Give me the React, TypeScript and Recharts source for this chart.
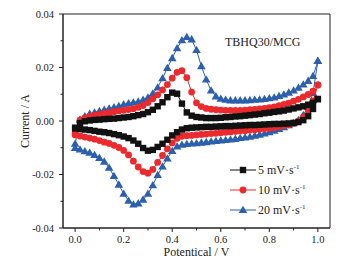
import { ScatterChart, Scatter, XAxis, YAxis, ReferenceArea, Legend } from 'recharts';

const SERIF = '"Liberation Serif", "Times New Roman", serif';
const INK = '#222';

// potential steps shared by every scan (V)
const POTENTIALS = [
  0, 0.02, 0.04, 0.06, 0.08, 0.1, 0.12, 0.14, 0.16, 0.18, 0.2, 0.22, 0.24, 0.26, 0.28, 0.3, 0.32, 0.34,
  0.36, 0.38, 0.4, 0.42, 0.44, 0.46, 0.48, 0.5, 0.52, 0.54, 0.56, 0.58, 0.6, 0.62, 0.64, 0.66, 0.68, 0.7,
  0.72, 0.74, 0.76, 0.78, 0.8, 0.82, 0.84, 0.86, 0.88, 0.9, 0.92, 0.94, 0.96, 0.98, 1.0,
];

// current (A): anodic sweep 0 -> 1 V, and the return sweep listed by ascending potential
const FWD_5 = [
  -0.0025, -0.0008, -0.0001, 0.0002, 0.0004, 0.0005, 0.0007, 0.0008, 0.0009, 0.0011, 0.0013, 0.0015, 0.0018,
  0.0022, 0.0026, 0.0033, 0.0042, 0.0055, 0.007, 0.0089, 0.0106, 0.0102, 0.0065, 0.0032, 0.002, 0.0015,
  0.0013, 0.0011, 0.0011, 0.0011, 0.0012, 0.0014, 0.0015, 0.0017, 0.0018, 0.002, 0.0022, 0.0024, 0.0026,
  0.0029, 0.0031, 0.0034, 0.0036, 0.0039, 0.0043, 0.0047, 0.0051, 0.0055, 0.0061, 0.0068, 0.0082,
];
const REV_5 = [
  -0.0028, -0.003, -0.0032, -0.0034, -0.0037, -0.004, -0.0042, -0.0045, -0.0049, -0.0053, -0.0058, -0.0064,
  -0.0073, -0.0085, -0.0101, -0.0111, -0.0108, -0.0097, -0.0085, -0.007, -0.0054, -0.0042, -0.0032, -0.0027,
  -0.0025, -0.0024, -0.0023, -0.0022, -0.0022, -0.0021, -0.002, -0.0019, -0.0019, -0.0018, -0.0017, -0.0016,
  -0.0015, -0.0015, -0.0014, -0.0013, -0.0012, -0.0011, -0.0011, -0.001, -0.0009, -0.0007, -0.0004, 0.0003,
  0.0018, 0.0045, 0.0082,
];
const FWD_10 = [
  -0.0045, 0.0003, 0.0012, 0.0017, 0.0021, 0.0025, 0.0028, 0.0031, 0.0035, 0.0038, 0.004, 0.0043, 0.0046,
  0.0051, 0.0058, 0.0069, 0.0083, 0.0098, 0.0116, 0.0136, 0.016, 0.0182, 0.0188, 0.0162, 0.0108, 0.0068,
  0.0054, 0.0047, 0.0044, 0.0042, 0.0041, 0.004, 0.004, 0.004, 0.004, 0.0041, 0.0042, 0.0043, 0.0045,
  0.0047, 0.005, 0.0053, 0.0057, 0.0062, 0.0067, 0.0074, 0.0081, 0.009, 0.0099, 0.0112, 0.0135,
];
const REV_10 = [
  -0.0052, -0.0056, -0.006, -0.0064, -0.0068, -0.0073, -0.0079, -0.0084, -0.0091, -0.0099, -0.011, -0.0127,
  -0.015, -0.0172, -0.0189, -0.0195, -0.0181, -0.0155, -0.0129, -0.0104, -0.0082, -0.0065, -0.0057, -0.0055,
  -0.0054, -0.0052, -0.005, -0.0049, -0.0047, -0.0046, -0.0044, -0.0042, -0.0041, -0.0039, -0.0037, -0.0036,
  -0.0034, -0.0033, -0.0031, -0.0029, -0.0027, -0.0025, -0.0021, -0.0018, -0.0014, -0.0009, -0.0001, 0.0014,
  0.0038, 0.0075, 0.0135,
];
const FWD_20 = [
  -0.0085, 0.0005, 0.0018, 0.0027, 0.0032, 0.0037, 0.0042, 0.0047, 0.0051, 0.0056, 0.0062, 0.0066, 0.0069,
  0.0073, 0.0079, 0.0088, 0.0103, 0.0125, 0.016, 0.0198, 0.0235, 0.0272, 0.0302, 0.0314, 0.0305, 0.0265,
  0.0205, 0.0155, 0.0114, 0.0092, 0.0083, 0.0079, 0.0077, 0.0077, 0.0077, 0.0077, 0.0078, 0.0079, 0.008,
  0.0082, 0.0085, 0.0088, 0.0093, 0.0099, 0.0106, 0.0114, 0.0124, 0.0136, 0.015, 0.0168, 0.0224,
];
const REV_20 = [
  -0.0101, -0.0107, -0.0113, -0.0119, -0.0127, -0.0138, -0.0152, -0.0175, -0.0206, -0.0238, -0.0272, -0.0298,
  -0.0312, -0.0308, -0.0294, -0.0272, -0.024, -0.0202, -0.017, -0.014, -0.0112, -0.0095, -0.0089, -0.0086,
  -0.0084, -0.0083, -0.0081, -0.0079, -0.0077, -0.0075, -0.0073, -0.0071, -0.0069, -0.0067, -0.0064, -0.0062,
  -0.0059, -0.0055, -0.0051, -0.0047, -0.0042, -0.0036, -0.003, -0.0023, -0.0016, -0.0008, 0.0004, 0.0022,
  0.0052, 0.0105, 0.0224,
];

const X_TICKS = [0, 0.1, 0.2, 0.3, 0.4, 0.5, 0.6, 0.7, 0.8, 0.9, 1.0];
const X_LABELS = ['0.0', '0.2', '0.4', '0.6', '0.8', '1.0'];
const Y_TICKS = [-0.04, -0.03, -0.02, -0.01, 0, 0.01, 0.02, 0.03, 0.04];
const Y_LABELS = ['-0.04', '-0.02', '0.00', '0.02', '0.04'];

// closed CV loop: forward sweep then back down
const toLoop = (fwd: number[], rev: number[]) => [
  ...POTENTIALS.map((v, k) => ({ v, i: fwd[k] })),
  ...POTENTIALS.map((v, k) => ({ v, i: rev[k] })).reverse(),
];

const Square = ({ cx, cy, fill }: any) => <rect x={cx - 3.2} y={cy - 3.2} width={6.4} height={6.4} fill={fill} />;
const Dot = ({ cx, cy, fill }: any) => <circle cx={cx} cy={cy} r={3.4} fill={fill} />;
const Tri = ({ cx, cy, fill }: any) => (
  <polygon points={`${cx},${cy - 4.3} ${cx - 4.3},${cy + 3} ${cx + 4.3},${cy + 3}`} fill={fill} />
);

const SERIES = [
  { key: '5', color: '#111111', Shape: Square, data: toLoop(FWD_5, REV_5) },
  { key: '10', color: '#ec2a2d', Shape: Dot, data: toLoop(FWD_10, REV_10) },
  { key: '20', color: '#2c5fae', Shape: Tri, data: toLoop(FWD_20, REV_20) },
];

const TICK = 4;
const GAP = 5;

const XTick = ({ x, y, payload }: any) => {
  const axisY = y - TICK - GAP;
  const label = X_LABELS.find((l) => Math.abs(parseFloat(l) - payload.value) < 1e-6);
  return (
    <g>
      <line x1={x} x2={x} y1={axisY} y2={axisY + (label ? TICK : 2.5)} stroke={INK} />
      {label && (
        <text x={x} y={axisY + 15} textAnchor="middle" fontSize={10.5} fontFamily={SERIF} fill={INK}>
          {label}
        </text>
      )}
    </g>
  );
};

const YTick = ({ x, y, payload }: any) => {
  const axisX = x + TICK + GAP;
  const label = Y_LABELS.find((l) => Math.abs(parseFloat(l) - payload.value) < 1e-6);
  return (
    <g>
      <line x1={axisX} x2={axisX - (label ? TICK : 2.5)} y1={y} y2={y} stroke={INK} />
      {label && (
        <text x={axisX - 9} y={y + 3.7} textAnchor="end" fontSize={10.5} fontFamily={SERIF} fill={INK}>
          {label}
        </text>
      )}
    </g>
  );
};

const renderLegend = () => (
  <div style={{ fontFamily: SERIF, fontSize: 12, color: INK }}>
    {SERIES.map((s) => (
      <div key={s.key} style={{ display: 'flex', alignItems: 'center', height: 20 }}>
        <svg width={26} height={10} style={{ display: 'block' }}>
          <line x1={0} x2={26} y1={5} y2={5} stroke={s.color} />
          <s.Shape cx={13} cy={5} fill={s.color} />
        </svg>
        <span style={{ marginLeft: 2, whiteSpace: 'nowrap' }}>
          {s.key} mV·s<sup style={{ fontSize: 7 }}>-1</sup>
        </span>
      </div>
    ))}
  </div>
);

export default function App() {
  return (
    <div style={{ position: 'absolute', left: 0, top: 0, width: 355, height: 262, background: '#fff' }}>
      <ScatterChart width={355} height={262} margin={{ top: 14, right: 25, bottom: 0, left: 0 }}>
        <XAxis
          dataKey="v"
          type="number"
          domain={[-0.05, 1.05]}
          ticks={X_TICKS}
          interval={0}
          allowDataOverflow
          height={34}
          tickSize={TICK}
          tickMargin={GAP}
          tickLine={false}
          tick={<XTick />}
          stroke={INK}
          label={{
            content: ({ viewBox }: any) => (
              <text
                x={viewBox.x + viewBox.width / 2}
                y={viewBox.y + 28}
                textAnchor="middle"
                fontSize={12}
                fontFamily={SERIF}
                fill={INK}
              >
                Potentical / V
              </text>
            ),
          }}
        />
        <YAxis
          dataKey="i"
          type="number"
          domain={[-0.04, 0.04]}
          ticks={Y_TICKS}
          interval={0}
          allowDataOverflow
          width={63}
          tickSize={TICK}
          tickMargin={GAP}
          tickLine={false}
          tick={<YTick />}
          stroke={INK}
          label={{
            content: ({ viewBox }: any) => {
              const cy = viewBox.y + viewBox.height / 2;
              return (
                <text
                  x={25}
                  y={cy}
                  transform={`rotate(-90 25 ${cy})`}
                  textAnchor="middle"
                  dominantBaseline="central"
                  fontSize={12}
                  fontFamily={SERIF}
                  fill={INK}
                >
                  Current / A
                </text>
              );
            },
          }}
        />
        <ReferenceArea
          x1={-0.05}
          x2={1.05}
          y1={-0.04}
          y2={0.04}
          fill="none"
          stroke={INK}
          strokeWidth={1}
          fillOpacity={0}
        />
        {[...SERIES].reverse().map((s) => (
          <Scatter
            key={s.key}
            name={`${s.key} mV·s-1`}
            data={s.data}
            fill={s.color}
            line={{ stroke: s.color, strokeWidth: 1 }}
            lineType="joint"
            shape={(p: any) => <s.Shape cx={p.cx} cy={p.cy} fill={s.color} />}
            isAnimationActive={false}
          />
        ))}
        <Legend
          layout="vertical"
          align="center"
          verticalAlign="middle"
          content={renderLegend}
          wrapperStyle={{ top: 160, left: 230, width: 100, height: 60 }}
        />
      </ScatterChart>
      <div
        style={{
          position: 'absolute',
          left: 225,
          top: 35,
          fontFamily: SERIF,
          fontSize: 12,
          lineHeight: '14px',
          color: INK,
          whiteSpace: 'nowrap',
        }}
      >
        TBHQ30/MCG
      </div>
    </div>
  );
}
